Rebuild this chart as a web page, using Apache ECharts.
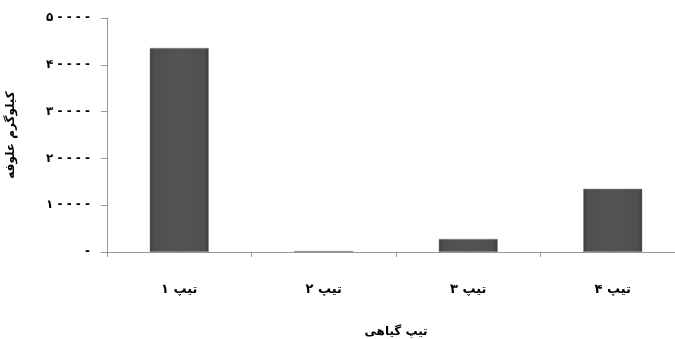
<!DOCTYPE html>
<html><head><meta charset="utf-8">
<script src="https://cdn.jsdelivr.net/npm/echarts@6/dist/echarts.min.js"></script>
<style>html,body{margin:0;padding:0;background:#fff}#c{width:675px;height:339px}</style>
</head><body><div id="c"></div>
<script>
const categories = ['تیپ ۱', 'تیپ ۲', 'تیپ ۳', 'تیپ ۴'];
const values = [4.36, 0.02, 0.28, 1.35];
const yTickLabels = ['-', '۱ - - - -', '۲ - - - -', '۳ - - - -', '۴ - - - -', '۵ - - - -'];
const xName = 'تیپ گیاهی';
const yName = 'کیلوگرم علوفه';

const chart = echarts.init(document.getElementById('c'));
const font = 'DejaVu Sans';
chart.setOption({
  animation: false,
  grid: { left: 107, top: 18, width: 578, height: 234, containLabel: false, outerBoundsMode: 'none' },
  xAxis: {
    type: 'category', data: categories,
    name: xName, nameLocation: 'middle', nameGap: 74,
    nameTextStyle: { fontFamily: font, fontWeight: 'bold', fontSize: 12, color: '#000' },
    axisLine: { lineStyle: { color: '#999' } },
    axisTick: { show: true, length: 5, lineStyle: { color: '#999' } },
    axisLabel: { fontFamily: font, fontWeight: 'bold', fontSize: 13, color: '#000', margin: 31 }
  },
  yAxis: {
    type: 'value', min: 0, max: 5, interval: 1,
    name: yName, nameLocation: 'middle', nameGap: 90, nameRotate: 90,
    nameTextStyle: { fontFamily: font, fontWeight: 'bold', fontSize: 12, color: '#000' },
    axisLine: { show: true, lineStyle: { color: '#999' } },
    axisTick: { show: true, length: 6, lineStyle: { color: '#999' } },
    splitLine: { show: false },
    axisLabel: { fontFamily: font, fontWeight: 'bold', fontSize: 12, color: '#000', margin: 17,
      formatter: (v) => yTickLabels[Math.round(v)] }
  },
  series: [{
    type: 'bar', data: values, barWidth: 59,
    itemStyle: {
      color: { type: 'linear', x: 0, y: 0, x2: 1, y2: 0, colorStops: [
        { offset: 0, color: '#3a3a3a' }, { offset: 0.07, color: '#4e4e4e' },
        { offset: 0.5, color: '#545454' }, { offset: 0.93, color: '#4e4e4e' }, { offset: 1, color: '#3a3a3a' }] },
      borderColor: '#888', borderWidth: 0.5
    }
  }]
});
</script></body></html>
